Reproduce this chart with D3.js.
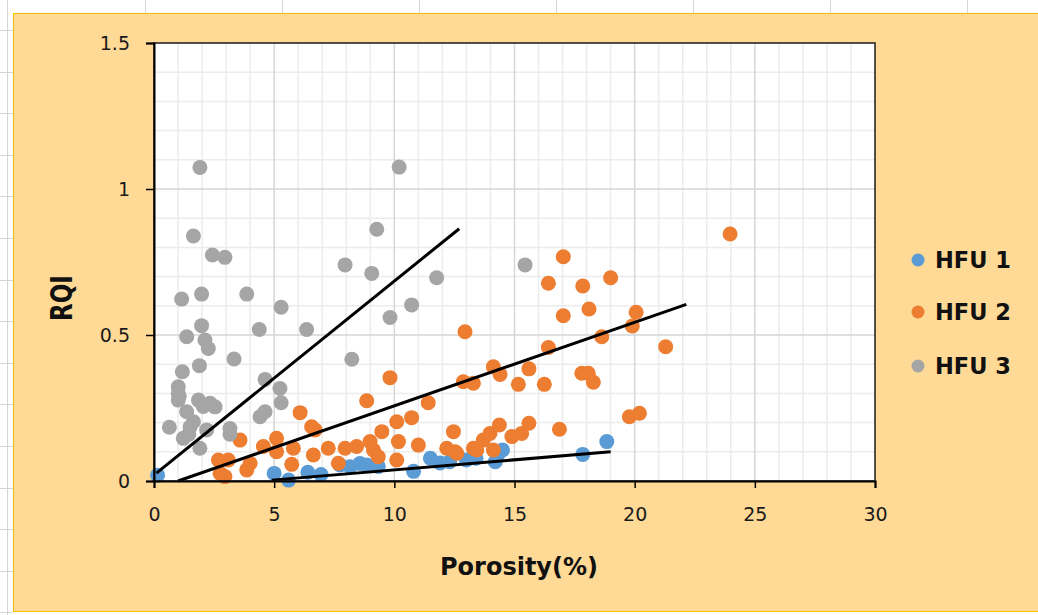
<!DOCTYPE html>
<html>
<head>
<meta charset="utf-8">
<script src="https://cdn.jsdelivr.net/npm/d3@7"></script>
<style>
  html, body { margin: 0; padding: 0; background: #fff; }
  svg { display: block; }
</style>
</head>
<body>
<div id="chart"></div>
<script>
// series names and colours
const seriesNames = ["HFU 1", "HFU 2", "HFU 3"];
const seriesColors = ["#5B9BD5", "#ED7D31", "#A5A5A5"];

// [porosity %, RQI]
const hfu1 = [
  [0.15, 0.02], [5.0, 0.026], [5.6, 0.003], [6.4, 0.03], [6.95, 0.022],
  [7.74, 0.055], [8.16, 0.049], [8.57, 0.06], [8.85, 0.055], [9.33, 0.05],
  [10.8, 0.033], [11.5, 0.078], [11.9, 0.062], [12.3, 0.066], [13.0, 0.072],
  [13.4, 0.078], [14.2, 0.066], [14.5, 0.106], [14.3, 0.09], [17.84, 0.091],
  [18.84, 0.135]
];

const hfu2 = [
  [2.68, 0.072], [3.09, 0.072], [2.75, 0.026], [2.95, 0.015], [3.58, 0.14],
  [3.86, 0.038], [4.0, 0.061], [4.55, 0.118], [5.1, 0.146], [5.1, 0.1],
  [5.73, 0.057], [5.8, 0.112], [6.08, 0.234], [6.56, 0.186], [6.7, 0.175],
  [6.63, 0.089], [7.25, 0.112], [7.67, 0.061], [7.95, 0.112], [8.43, 0.118],
  [8.85, 0.275], [8.99, 0.135], [9.13, 0.106], [9.33, 0.083], [9.48, 0.169],
  [9.82, 0.354], [10.1, 0.203], [10.17, 0.135], [10.1, 0.072], [10.72, 0.217],
  [11.0, 0.123], [11.41, 0.268], [12.18, 0.112], [12.46, 0.169], [12.53, 0.1],
  [12.6, 0.095], [12.94, 0.511], [12.87, 0.34], [13.29, 0.335], [13.29, 0.112],
  [13.43, 0.106], [13.7, 0.14], [13.98, 0.163], [14.12, 0.391], [14.4, 0.365],
  [14.37, 0.192], [14.12, 0.106], [14.89, 0.152], [15.16, 0.331], [15.3, 0.163],
  [15.6, 0.384], [15.6, 0.198], [16.24, 0.331], [16.41, 0.457], [16.41, 0.677],
  [16.87, 0.177], [17.03, 0.768], [17.03, 0.566], [17.8, 0.369], [18.07, 0.369],
  [17.84, 0.668], [18.1, 0.589], [18.28, 0.338], [18.63, 0.494], [19.0, 0.696],
  [19.78, 0.22], [20.2, 0.232], [19.9, 0.531], [20.06, 0.578], [21.29, 0.46],
  [23.97, 0.846]
];

const hfu3 = [
  [1.91, 1.074], [10.2, 1.075], [9.27, 0.862], [1.64, 0.839], [2.43, 0.774],
  [2.95, 0.766], [7.95, 0.74], [9.06, 0.711], [15.44, 0.74], [11.76, 0.696],
  [1.15, 0.623], [1.98, 0.64], [3.86, 0.64], [5.29, 0.595], [10.72, 0.603],
  [9.82, 0.56], [1.98, 0.532], [4.38, 0.519], [6.35, 0.519], [1.36, 0.494],
  [2.12, 0.483], [2.26, 0.454], [3.33, 0.418], [8.23, 0.417], [1.89, 0.395],
  [1.18, 0.374], [4.62, 0.348], [5.24, 0.317], [5.29, 0.268], [1.01, 0.323],
  [1.01, 0.3], [1.01, 0.277], [1.05, 0.29], [1.85, 0.277], [2.33, 0.266],
  [2.54, 0.254], [1.36, 0.237], [1.64, 0.203], [1.5, 0.185], [0.64, 0.184],
  [1.22, 0.146], [1.45, 0.16], [1.91, 0.112], [2.19, 0.175], [3.16, 0.18],
  [3.16, 0.16], [4.62, 0.237], [4.41, 0.22], [2.05, 0.255]
];

// fitted trendlines, end points [porosity, RQI]
const trend1 = [[4.9, 0.003], [19.0, 0.1]];
const trend2 = [[1.0, 0.0], [22.15, 0.605]];
const trend3 = [[0.1, 0.027], [12.7, 0.864]];

const xTicks = [0, 5, 10, 15, 20, 25, 30];
const yTicks = [0, 0.5, 1, 1.5];
const yTickLabels = ["0", "0.5", "1", "1.5"];

const width = 1038, height = 615;
const font = "'DejaVu Sans', sans-serif";

const svg = d3.select("#chart").append("svg")
  .attr("width", width)
  .attr("height", height);

// spreadsheet cells peeking around the chart
const sheet = svg.append("g").attr("stroke", "#d6d6d6").attr("stroke-width", 1);
d3.range(145, width, 137).forEach(cx => {
  sheet.append("line").attr("x1", cx + 0.5).attr("x2", cx + 0.5).attr("y1", 0).attr("y2", 13);
});
d3.range(30, height, 41.6).forEach(cy => {
  sheet.append("line").attr("x1", 0).attr("x2", 13).attr("y1", Math.round(cy) + 0.5).attr("y2", Math.round(cy) + 0.5);
});
sheet.append("line").attr("x1", 7.5).attr("x2", 7.5).attr("y1", 0).attr("y2", height);

// chart area
svg.append("rect")
  .attr("x", 13.5).attr("y", 13.5)
  .attr("width", width).attr("height", 598)
  .attr("fill", "#FFD996")
  .attr("stroke", "#FFC000")
  .attr("stroke-width", 1);

const x = d3.scaleLinear().domain([0, 30]).range([154, 875]);
const y = d3.scaleLinear().domain([0, 1.5]).range([481, 43]);

// plot area
svg.append("rect")
  .attr("x", x(0)).attr("y", y(1.5))
  .attr("width", x(30) - x(0)).attr("height", y(0) - y(1.5))
  .attr("fill", "#fff");

const grid = svg.append("g");
grid.selectAll(".minx")
  .data(d3.range(1, 30).filter(v => v % 5 !== 0))
  .join("line")
  .attr("x1", d => x(d)).attr("x2", d => x(d))
  .attr("y1", y(0)).attr("y2", y(1.5))
  .attr("stroke", "#ececec").attr("stroke-width", 1.5);
grid.selectAll(".miny")
  .data(d3.range(1, 15).filter(v => v % 5 !== 0).map(v => v / 10))
  .join("line")
  .attr("x1", x(0)).attr("x2", x(30))
  .attr("y1", d => y(d)).attr("y2", d => y(d))
  .attr("stroke", "#ececec").attr("stroke-width", 1.5);
grid.selectAll(".majx")
  .data(xTicks.slice(1, -1))
  .join("line")
  .attr("x1", d => x(d)).attr("x2", d => x(d))
  .attr("y1", y(0)).attr("y2", y(1.5))
  .attr("stroke", "#d6d6d6").attr("stroke-width", 1.5);
grid.selectAll(".majy")
  .data(yTicks.slice(1, -1))
  .join("line")
  .attr("x1", x(0)).attr("x2", x(30))
  .attr("y1", d => y(d)).attr("y2", d => y(d))
  .attr("stroke", "#d6d6d6").attr("stroke-width", 1.5);

// points
const allSeries = [hfu1, hfu2, hfu3];
allSeries.forEach((pts, i) => {
  svg.append("g")
    .selectAll("circle")
    .data(pts)
    .join("circle")
    .attr("cx", d => x(d[0]))
    .attr("cy", d => y(d[1]))
    .attr("r", 7.5)
    .attr("fill", seriesColors[i]);
});

// trendlines
const line = d3.line().x(d => x(d[0])).y(d => y(d[1]));
[trend1, trend2, trend3].forEach(t => {
  svg.append("path")
    .attr("d", line(t))
    .attr("fill", "none")
    .attr("stroke", "#000")
    .attr("stroke-width", 3);
});

// plot border
svg.append("rect")
  .attr("x", x(0)).attr("y", y(1.5))
  .attr("width", x(30) - x(0)).attr("height", y(0) - y(1.5))
  .attr("fill", "none")
  .attr("stroke", "#1a1a1a")
  .attr("stroke-width", 1.5);

// axes
const xAxis = svg.append("g")
  .attr("transform", `translate(0,${y(0)})`)
  .call(d3.axisBottom(x).tickValues(xTicks).tickSize(7).tickPadding(20).tickFormat(d3.format("d")));
const yAxis = svg.append("g")
  .attr("transform", `translate(${x(0)},0)`)
  .call(d3.axisLeft(y).tickValues(yTicks).tickSize(8).tickPadding(16)
    .tickFormat((d, i) => yTickLabels[i]));
[xAxis, yAxis].forEach(a => {
  a.select(".domain").attr("stroke", "#000").attr("stroke-width", 2);
  a.selectAll(".tick line").attr("stroke", "#000").attr("stroke-width", 1.5);
  a.selectAll("text").attr("font-family", font).attr("font-size", 19).attr("fill", "#1a1a1a");
});

// axis titles
svg.append("text")
  .attr("x", 519).attr("y", 575)
  .attr("text-anchor", "middle")
  .attr("font-family", font).attr("font-weight", "bold").attr("font-size", 24)
  .attr("fill", "#111")
  .text("Porosity(%)");
svg.append("text")
  .attr("transform", "translate(72,298) scale(1.3,1) rotate(-90)")
  .attr("text-anchor", "middle")
  .attr("font-family", font).attr("font-weight", "bold").attr("font-size", 23)
  .attr("fill", "#111")
  .text("RQI");

// legend
const legend = svg.append("g")
  .selectAll("g")
  .data(seriesNames)
  .join("g")
  .attr("transform", (d, i) => `translate(918,${[260, 312, 366][i]})`);
legend.append("circle").attr("r", 6.5).attr("fill", (d, i) => seriesColors[i]);
legend.append("text")
  .attr("x", 17).attr("dy", "0.36em")
  .attr("font-family", font).attr("font-weight", "bold").attr("font-size", 22.5)
  .attr("fill", "#111")
  .text(d => d);
</script>
</body>
</html>
